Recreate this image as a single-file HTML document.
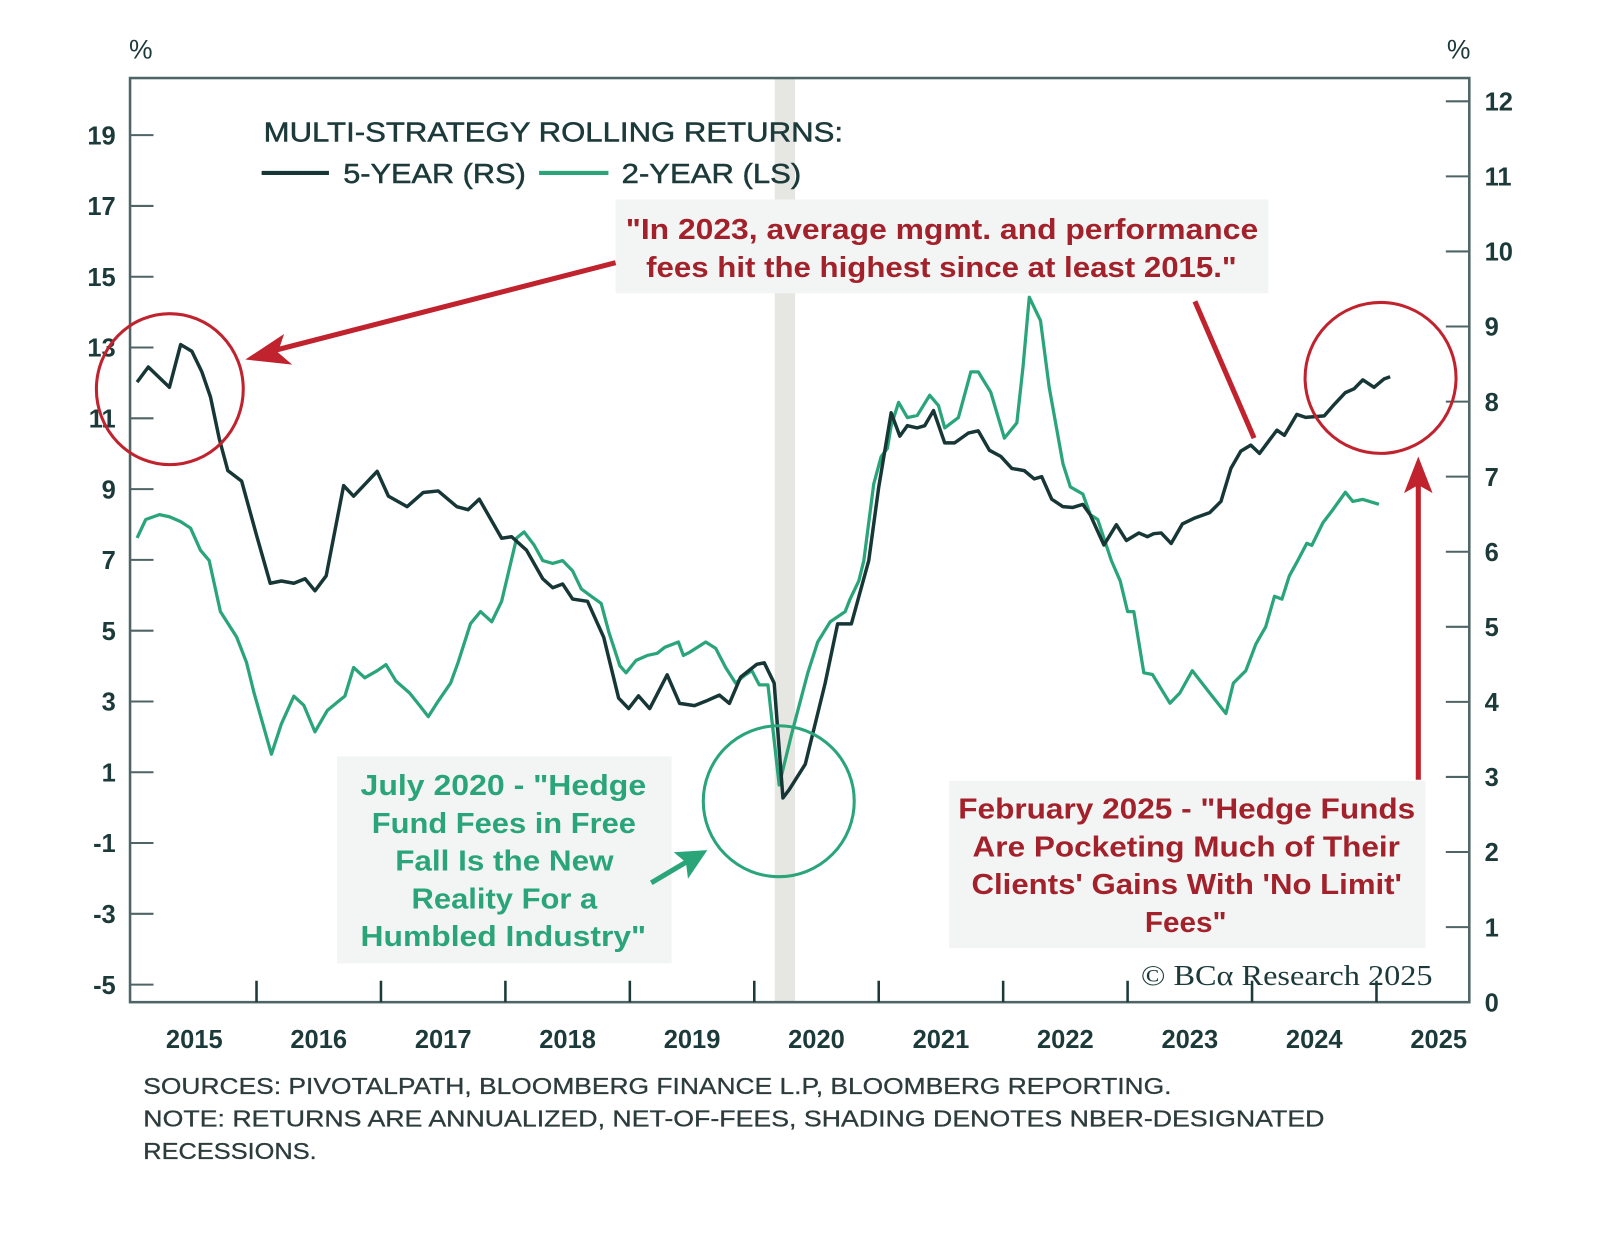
<!DOCTYPE html>
<html><head><meta charset="utf-8"><style>
html,body{margin:0;padding:0;background:#fff;}
body{width:1600px;height:1230px;overflow:hidden;font-family:"Liberation Sans",sans-serif;}
svg text{font-family:"Liberation Sans",sans-serif;}
</style></head><body>
<svg id="chart" width="1600" height="1230" viewBox="0 0 1600 1230" xmlns="http://www.w3.org/2000/svg">
<rect x="0" y="0" width="1600" height="1230" fill="#fff"/>
<g transform="matrix(1.02,0,0,1.02,0.5,-0.5)">
<rect x="759" y="78" width="20" height="905" fill="#e6e6e3"/>
<g id="axes"></g>
<g id="series"></g>
<g id="annotations">
  <text x="126" y="58" font-size="26" fill="#1d3a3a">%</text>
  <text x="1418" y="58" font-size="26" fill="#1d3a3a">%</text>
  <text x="258" y="139" font-size="27" fill="#1d3a3a" stroke="#1d3a3a" stroke-width="0.5" textLength="568" lengthAdjust="spacingAndGlyphs">MULTI-STRATEGY ROLLING RETURNS:</text>
  <line x1="256" y1="170" x2="322" y2="170" stroke="#173636" stroke-width="4"/>
  <text x="336" y="180" font-size="27" fill="#1d3a3a" stroke="#1d3a3a" stroke-width="0.5" textLength="179" lengthAdjust="spacingAndGlyphs">5-YEAR (RS)</text>
  <line x1="528" y1="170" x2="596" y2="170" stroke="#2aa57a" stroke-width="4"/>
  <text x="609" y="180" font-size="27" fill="#1d3a3a" stroke="#1d3a3a" stroke-width="0.5" textLength="176" lengthAdjust="spacingAndGlyphs">2-YEAR (LS)</text>

  <rect x="603" y="196" width="640" height="92" fill="#f3f4f4"/>
  <text font-size="28" font-weight="bold" fill="#a3212a">
    <tspan x="613" y="235" textLength="620" lengthAdjust="spacingAndGlyphs">"In 2023, average mgmt. and performance</tspan>
    <tspan x="633" y="272" textLength="579" lengthAdjust="spacingAndGlyphs">fees hit the highest since at least 2015."</tspan>
  </text>
  <ellipse cx="166" cy="382" rx="72" ry="74" fill="none" stroke="#c0232e" stroke-width="3"/>
  <ellipse cx="1353" cy="371" rx="74" ry="74" fill="none" stroke="#c0232e" stroke-width="3"/>
  <line x1="603" y1="258" x2="265" y2="345" stroke="#c0232e" stroke-width="5"/>
  <polygon points="240,353 278,328 272,346 286,358" fill="#c0232e"/>
  <line x1="1171" y1="296" x2="1229" y2="430" stroke="#c0232e" stroke-width="5"/>
  <line x1="1390" y1="765" x2="1390" y2="475" stroke="#c0232e" stroke-width="5"/>
  <polygon points="1390,448 1376,484 1390,476 1404,484" fill="#c0232e"/>

  <rect x="330" y="742" width="328" height="203" fill="#f3f4f4"/>
  <text font-size="28" font-weight="bold" fill="#2aa57a">
    <tspan x="353" y="780" textLength="280" lengthAdjust="spacingAndGlyphs">July 2020 - "Hedge</tspan>
    <tspan x="364" y="817" textLength="259" lengthAdjust="spacingAndGlyphs">Fund Fees in Free</tspan>
    <tspan x="387" y="854" textLength="214" lengthAdjust="spacingAndGlyphs">Fall Is the New</tspan>
    <tspan x="403" y="891" textLength="182" lengthAdjust="spacingAndGlyphs">Reality For a</tspan>
    <tspan x="353" y="928" textLength="280" lengthAdjust="spacingAndGlyphs">Humbled Industry"</tspan>
  </text>
  <ellipse cx="763" cy="786" rx="74" ry="74" fill="none" stroke="#2aa57a" stroke-width="3"/>
  <line x1="638" y1="866" x2="675" y2="844" stroke="#2aa57a" stroke-width="5"/>
  <polygon points="693,834 660,836 672,846 674,862" fill="#2aa57a"/>

  <rect x="930" y="766" width="467" height="164" fill="#f3f4f4"/>
  <text font-size="28" font-weight="bold" fill="#a3212a">
    <tspan x="939" y="803" textLength="448" lengthAdjust="spacingAndGlyphs">February 2025 - "Hedge Funds</tspan>
    <tspan x="953" y="840" textLength="419" lengthAdjust="spacingAndGlyphs">Are Pocketing Much of Their</tspan>
    <tspan x="952" y="877" textLength="422" lengthAdjust="spacingAndGlyphs">Clients' Gains With 'No Limit'</tspan>
    <tspan x="1122" y="914" textLength="80" lengthAdjust="spacingAndGlyphs">Fees"</tspan>
  </text>
  <text x="1118" y="966" font-size="28" fill="#1d3a3a" textLength="286" lengthAdjust="spacingAndGlyphs" style="font-family:'Liberation Serif',serif">© BCα Research 2025</text>

  <text font-size="23" fill="#2c3b3b" stroke="#2c3b3b" stroke-width="0.3">
    <tspan x="140" y="1073" textLength="1008" lengthAdjust="spacingAndGlyphs">SOURCES: PIVOTALPATH, BLOOMBERG FINANCE L.P, BLOOMBERG REPORTING.</tspan>
    <tspan x="140" y="1105" textLength="1158" lengthAdjust="spacingAndGlyphs">NOTE: RETURNS ARE ANNUALIZED, NET-OF-FEES, SHADING DENOTES NBER-DESIGNATED</tspan>
    <tspan x="140" y="1137" textLength="170" lengthAdjust="spacingAndGlyphs">RECESSIONS.</tspan>
  </text>
</g>
</g>
</svg>
<script>
const leftTicks = [19,17,15,13,11,9,7,5,3,1,-1,-3,-5];
const rightTicks = [12,11,10,9,8,7,6,5,4,3,2,1,0];
const yearLabels = [2015,2016,2017,2018,2019,2020,2021,2022,2023,2024,2025];

const fiveYearDates = [2015.04,2015.13,2015.30,2015.39,2015.48,2015.56,2015.63,2015.70,2015.77,2015.88,2016.00,2016.11,2016.20,2016.30,2016.39,2016.47,2016.56,2016.70,2016.78,2016.97,2017.06,2017.21,2017.34,2017.46,2017.61,2017.70,2017.79,2017.97,2018.05,2018.17,2018.30,2018.38,2018.46,2018.54,2018.66,2018.79,2018.91,2018.99,2019.07,2019.16,2019.30,2019.40,2019.52,2019.61,2019.72,2019.80,2019.89,2020.02,2020.08,2020.16,2020.23,2020.28,2020.41,2020.57,2020.67,2020.78,2020.92,2021.00,2021.10,2021.17,2021.23,2021.31,2021.37,2021.44,2021.53,2021.61,2021.72,2021.80,2021.89,2021.98,2022.07,2022.17,2022.25,2022.31,2022.39,2022.48,2022.56,2022.64,2022.70,2022.81,2022.91,2022.99,2023.09,2023.16,2023.21,2023.27,2023.35,2023.44,2023.54,2023.66,2023.75,2023.83,2023.91,2023.99,2024.06,2024.20,2024.26,2024.36,2024.43,2024.58,2024.66,2024.75,2024.82,2024.89,2024.98,2025.06,2025.11];
const fiveYearValues = [8.26,8.46,8.19,8.76,8.67,8.40,8.06,7.51,7.08,6.94,6.22,5.58,5.61,5.58,5.64,5.48,5.68,6.88,6.74,7.07,6.74,6.60,6.79,6.81,6.60,6.56,6.70,6.18,6.20,6.02,5.64,5.52,5.57,5.37,5.34,4.86,4.05,3.91,4.08,3.91,4.36,3.98,3.95,4.01,4.09,3.98,4.33,4.50,4.52,4.25,2.72,2.83,3.17,4.25,5.04,5.04,5.88,6.86,7.85,7.54,7.68,7.65,7.68,7.88,7.45,7.45,7.58,7.61,7.35,7.27,7.11,7.08,6.97,7.00,6.70,6.60,6.59,6.63,6.49,6.09,6.36,6.15,6.25,6.20,6.24,6.25,6.11,6.37,6.45,6.52,6.67,7.11,7.34,7.42,7.31,7.62,7.55,7.83,7.79,7.81,7.96,8.12,8.17,8.29,8.19,8.30,8.33];

const twoYearDates = [2015.04,2015.11,2015.22,2015.30,2015.39,2015.47,2015.55,2015.62,2015.71,2015.84,2015.92,2015.98,2016.12,2016.20,2016.30,2016.38,2016.47,2016.57,2016.66,2016.71,2016.78,2016.87,2016.97,2017.04,2017.12,2017.23,2017.31,2017.38,2017.46,2017.56,2017.62,2017.72,2017.80,2017.89,2017.97,2018.09,2018.15,2018.23,2018.30,2018.38,2018.46,2018.54,2018.61,2018.69,2018.77,2018.83,2018.92,2018.97,2019.05,2019.14,2019.22,2019.28,2019.39,2019.43,2019.48,2019.61,2019.69,2019.77,2019.85,2019.92,2019.98,2020.04,2020.11,2020.20,2020.30,2020.43,2020.51,2020.61,2020.73,2020.77,2020.84,2020.88,2020.96,2021.02,2021.07,2021.10,2021.16,2021.23,2021.31,2021.41,2021.48,2021.53,2021.64,2021.74,2021.80,2021.90,2022.01,2022.11,2022.16,2022.21,2022.30,2022.37,2022.48,2022.54,2022.64,2022.70,2022.76,2022.87,2022.94,2023.00,2023.05,2023.13,2023.20,2023.34,2023.42,2023.52,2023.66,2023.79,2023.85,2023.95,2024.03,2024.11,2024.18,2024.24,2024.30,2024.36,2024.44,2024.48,2024.57,2024.65,2024.75,2024.81,2024.89,2025.02];
const twoYearValues = [7.62,8.14,8.28,8.22,8.08,7.90,7.27,6.98,5.54,4.82,4.10,3.24,1.51,2.37,3.15,2.89,2.14,2.75,3.01,3.15,3.96,3.67,3.87,4.04,3.58,3.24,2.89,2.57,3.01,3.52,4.10,5.20,5.54,5.25,5.83,7.62,7.79,7.42,6.98,6.90,6.98,6.69,6.18,5.97,5.77,4.97,4.01,3.81,4.16,4.30,4.36,4.53,4.68,4.30,4.39,4.68,4.50,3.96,3.52,3.73,3.87,3.47,3.47,0.64,2.08,3.81,4.68,5.25,5.54,5.89,6.41,6.98,9.14,9.92,10.15,10.79,11.45,11.02,11.08,11.65,11.36,10.73,11.02,12.31,12.31,11.74,10.44,10.87,12.46,14.42,13.76,11.88,9.72,9.06,8.86,8.28,8.14,6.98,6.41,5.54,5.54,3.81,3.76,2.95,3.24,3.87,3.24,2.66,3.52,3.87,4.62,5.11,5.97,5.89,6.55,6.93,7.47,7.41,8.05,8.42,8.91,8.65,8.71,8.57];

const NS = 'http://www.w3.org/2000/svg';
const PL = 127, PR = 1440, PT = 77, PB = 983;
function xScale(d){ return 129 + (d - 2015) * 122; }
function yLeft(v){ return 133 + (19 - v) * 34.7; }
function yRight(v){ return 983 - v * 73.6; }
function mk(tag, attrs, parent){
  const e = document.createElementNS(NS, tag);
  for (const k in attrs) e.setAttribute(k, attrs[k]);
  parent.appendChild(e);
  return e;
}
const axes = document.getElementById('axes');
const series = document.getElementById('series');
const AX = '#4f6465';

const frame = mk('rect', {x:PL, y:PT, width:PR-PL, height:PB-PT, fill:'none', stroke:AX, 'stroke-width':2.5}, axes);



leftTicks.forEach(v => {
  const y = yLeft(v);
  const t = mk('line', {x1:PL, y1:y, x2:PL+23, y2:y, stroke:AX, 'stroke-width':2}, axes);
  
  
  const l = mk('text', {x:113, y:y+9, 'font-size':25, 'font-weight':'bold', fill:'#1d3a3a', 'text-anchor':'end'}, axes);
  l.textContent = v;
  
  
});
rightTicks.forEach(v => {
  const y = yRight(v);
  const t = mk('line', {x1:PR-23, y1:y, x2:PR, y2:y, stroke:AX, 'stroke-width':2}, axes);
  
  
  const l = mk('text', {x:1455, y:y+9, 'font-size':25, 'font-weight':'bold', fill:'#1d3a3a'}, axes);
  l.textContent = v;
  
  
});
yearLabels.forEach((yr, i) => {
  if (i > 0) {
    const x = xScale(yr);
    const t = mk('line', {x1:x, y1:PB, x2:x, y2:PB-21, stroke:'#1d3a3a', 'stroke-width':2.5}, axes);
    
    
  }
  const l = mk('text', {x:xScale(yr + 0.5), y:1028, 'font-size':25, 'font-weight':'bold', fill:'#1d3a3a', 'text-anchor':'middle'}, axes);
  l.textContent = yr;
  
  
});

function pathFrom(dates, vals, yf){
  return dates.map((d, i) => (i ? 'L' : 'M') + xScale(d).toFixed(1) + ',' + yf(vals[i]).toFixed(1)).join(' ');
}
const g2 = mk('path', {d:pathFrom(twoYearDates, twoYearValues, yLeft), fill:'none', stroke:'#2aa57a', 'stroke-width':3.2, 'stroke-linejoin':'round'}, series);


const g5 = mk('path', {d:pathFrom(fiveYearDates, fiveYearValues, yRight), fill:'none', stroke:'#173636', 'stroke-width':3.4, 'stroke-linejoin':'round'}, series);


</script>
</body></html>
